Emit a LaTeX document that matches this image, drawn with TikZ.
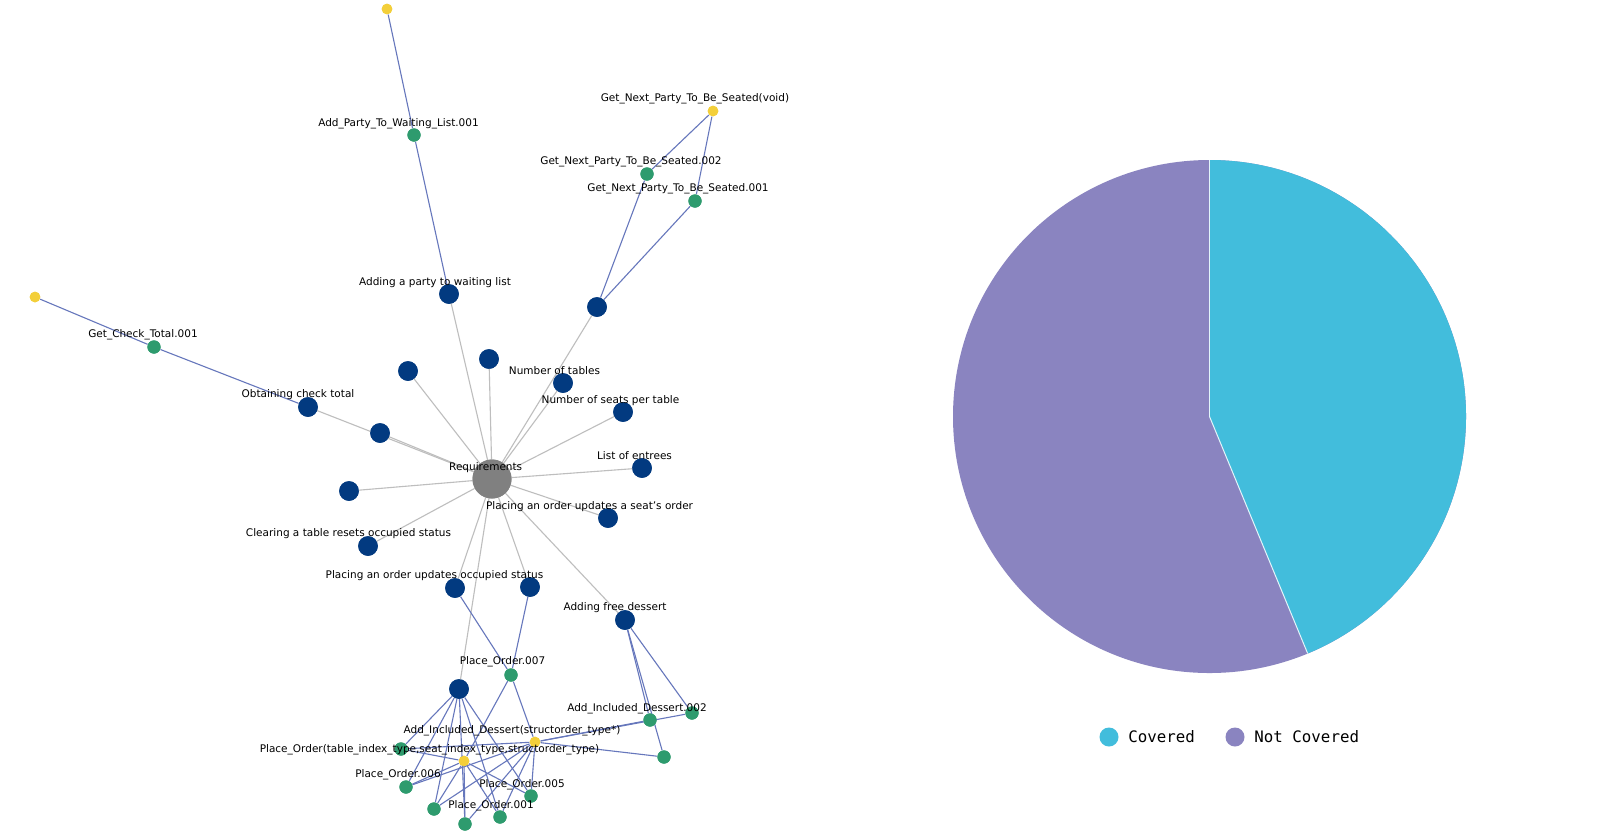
\documentclass[tikz,border=0pt]{standalone}
\usepackage{fontspec}
\setmainfont{DejaVu Sans}
\newfontfamily\legendfont{DejaVu Sans Mono}
\definecolor{reqblue}{HTML}{023A80}
\definecolor{tgreen}{HTML}{2E9B6E}
\definecolor{fyellow}{HTML}{F3CF3A}
\definecolor{rootgrey}{HTML}{808080}
\definecolor{greyedge}{HTML}{BEBEBE}
\definecolor{blueedge}{HTML}{6677BC}
\definecolor{cov}{HTML}{42BDDC}
\definecolor{notcov}{HTML}{8A84C0}
\begin{document}
\begin{tikzpicture}[x=0.5pt,y=-0.5pt,
  bnode/.style={circle,fill=reqblue,inner sep=0,minimum size=9.8pt},
  gnode/.style={circle,fill=tgreen,inner sep=0,minimum size=6.6pt},
  ynode/.style={circle,fill=fyellow,inner sep=0,minimum size=5.3pt},
  rnode/.style={circle,fill=rootgrey,inner sep=0,minimum size=19.5pt},
  gedge/.style={draw=greyedge,line width=0.55pt},
  bedge/.style={draw=blueedge,line width=0.55pt},
  lbl/.style={inner sep=0,anchor=base,font=\fontsize{5.25pt}{6pt}\selectfont,text=black},
  legdot/.style={circle,inner sep=0,minimum size=9.5pt},
  legtext/.style={inner sep=0,anchor=west,font=\legendfont\fontsize{7.9pt}{9pt}\selectfont,text=black}
]
\useasboundingbox[fill=white] (0,0) rectangle (1600,832);

% ---------- graph nodes ----------
\node[rnode] (R) at (492,479) {};
\node[bnode] (b1) at (449,294) {};
\node[bnode] (b2) at (597,307) {};
\node[bnode] (b3) at (408,371) {};
\node[bnode] (b4) at (489,359) {};
\node[bnode] (b5) at (563,383) {};
\node[bnode] (b6) at (623,412) {};
\node[bnode] (b7) at (308,407) {};
\node[bnode] (b8) at (380,433) {};
\node[bnode] (b9) at (349,491) {};
\node[bnode] (b10) at (642,468) {};
\node[bnode] (b11) at (608,518) {};
\node[bnode] (b12) at (368,546) {};
\node[bnode] (b13) at (455,588) {};
\node[bnode] (b14) at (530,587) {};
\node[bnode] (b15) at (625,620) {};
\node[bnode] (b16) at (459,689) {};

\node[ynode] (yA) at (387,9) {};
\node[ynode] (yB) at (35,297) {};
\node[ynode] (yC) at (713,111) {};
\node[ynode] (yD) at (535,742) {};
\node[ynode] (yE) at (464,761) {};

\node[gnode] (gA) at (414,135) {};
\node[gnode] (gB) at (154,347) {};
\node[gnode] (gC) at (647,174) {};
\node[gnode] (gD) at (695,201) {};
\node[gnode] (g7) at (511,675) {};
\node[gnode] (i1) at (650,720) {};
\node[gnode] (i2) at (692,713) {};
\node[gnode] (i3) at (664,757) {};
\node[gnode] (p1) at (401,749) {};
\node[gnode] (p2) at (406,787) {};
\node[gnode] (p3) at (434,809) {};
\node[gnode] (p4) at (465,824) {};
\node[gnode] (p5) at (500,817) {};
\node[gnode] (p6) at (531,796) {};

% ---------- edges ----------
\foreach \n in {b1,b2,b3,b4,b5,b6,b7,b8,b9,b10,b11,b12,b13,b14,b15,b16}
  \path[gedge] (R.center) -- (\n.center);
\path[bedge] (yA) -- (gA) -- (b1);
\path[bedge] (yB) -- (gB) -- (b7);
\path[bedge] (yC) -- (gC) -- (b2);
\path[bedge] (yC) -- (gD) -- (b2);
\path[bedge] (b13) -- (g7) -- (b14);
\path[bedge] (g7) -- (yE);
\path[bedge] (g7) -- (yD);
\foreach \n in {i1,i2,i3} {
  \path[bedge] (b15) -- (\n);
  \path[bedge] (yD) -- (\n);
}
\foreach \n in {p1,p2,p3,p4,p5,p6} {
  \path[bedge] (b16) -- (\n);
  \path[bedge] (yE) -- (\n);
  \path[bedge] (yD) -- (\n);
}

% redraw node discs on top of edges
\foreach \n in {b1,b2,b3,b4,b5,b6,b7,b8,b9,b10,b11,b12,b13,b14,b15,b16}
  \fill[reqblue] (\n) circle[radius=4.9pt];
\fill[rootgrey] (R) circle[radius=9.75pt];
\foreach \n in {gA,gB,gC,gD,g7,i1,i2,i3,p1,p2,p3,p4,p5,p6}
  \fill[tgreen] (\n) circle[radius=3.3pt];
\foreach \n in {yA,yB,yC,yD,yE}
  \fill[fyellow] (\n) circle[radius=2.65pt];

% ---------- labels ----------
\node[lbl] (l1) at (398.5,126.8) {Add\_Party\_To\_Waiting\_List.001};
\node[lbl] (l2) at (435,285.8) {Adding a party to waiting list};
\node[lbl] (l3) at (143,337.8) {Get\_Check\_Total.001};
\node[lbl] (l4) at (298,397.8) {Obtaining check total};
\node[lbl] (l5) at (695,101.8) {Get\_Next\_Party\_To\_Be\_Seated(void)};
\node[lbl] (l6) at (631,164.8) {Get\_Next\_Party\_To\_Be\_Seated.002};
\node[lbl] (l7) at (678,191.8) {Get\_Next\_Party\_To\_Be\_Seated.001};
\node[lbl] (l8) at (554.5,374.8) {Number of tables};
\node[lbl] (l9) at (610.5,403.8) {Number of seats per table};
\node[lbl] (l10) at (485.7,470.8) {Requirements};
\node[lbl] (l11) at (634.5,459.8) {List of entrees};
\node[lbl] (l12) at (589.5,509.8) {Placing an order updates a seat's order};
\node[lbl] (l13) at (348.5,536.8) {Clearing a table resets occupied status};
\node[lbl] (l14) at (434.5,578.8) {Placing an order updates occupied status};
\node[lbl] (l15) at (615,610.8) {Adding free dessert};
\node[lbl] (l16) at (502.5,664.8) {Place\_Order.007};
\node[lbl] (l17) at (637,711.8) {Add\_Included\_Dessert.002};
\node[lbl] (l18) at (512,733.8) {Add\_Included\_Dessert(structorder\_type*)};
\node[lbl] (l19) at (429.5,752.8) {Place\_Order(table\_index\_type,seat\_index\_type,structorder\_type)};
\node[lbl] (l20) at (398,777.8) {Place\_Order.006};
\node[lbl] (l21) at (522,787.8) {Place\_Order.005};
\node[lbl] (l22) at (491,808.8) {Place\_Order.001};

% ---------- pie chart ----------
\coordinate (pc) at (1209.5,416.5);
\fill[notcov] (pc) circle[radius=256.5];
\fill[cov] (pc) -- ++(-90:256.5) arc[start angle=-90,end angle=67.5,radius=256.5] -- cycle;
\draw[white!85!cov,line width=0.5pt] (pc) -- ++(-90:256.5);
\draw[white!85!cov,line width=0.5pt] (pc) -- ++(67.5:256.5);

% ---------- legend ----------
\node[legdot,fill=cov] (lc) at (1109,737) {};
\node[legtext] (lct) at (1128,737) {Covered};
\node[legdot,fill=notcov] (ln) at (1235,737) {};
\node[legtext] (lnt) at (1254,737) {Not Covered};
\end{tikzpicture}
\end{document}
